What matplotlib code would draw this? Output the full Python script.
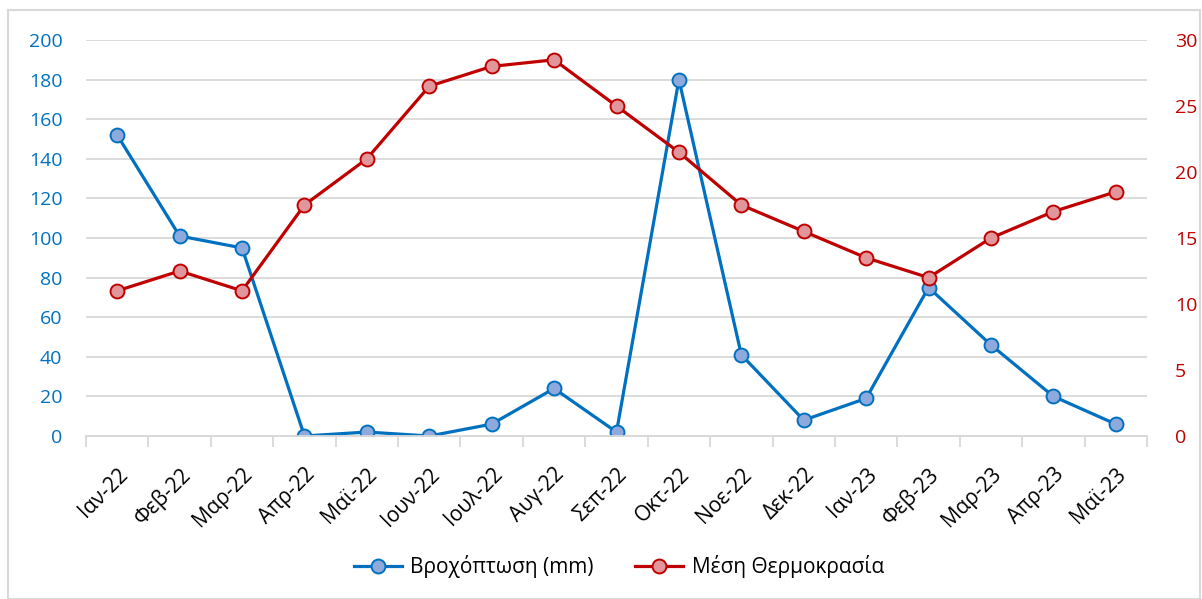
import matplotlib.pyplot as plt
from matplotlib.patches import Rectangle

months = ['Ιαν-22', 'Φεβ-22', 'Μαρ-22', 'Απρ-22', 'Μαϊ-22', 'Ιουν-22', 'Ιουλ-22', 'Αυγ-22', 'Σεπ-22',
          'Οκτ-22', 'Νοε-22', 'Δεκ-22', 'Ιαν-23', 'Φεβ-23', 'Μαρ-23', 'Απρ-23', 'Μαϊ-23']
rain = [152, 101, 95, 0, 2, 0, 6, 24, 2, 180, 41, 8, 19, 75, 46, 20, 6]
temp = [11, 12.5, 11, 17.5, 21, 26.5, 28, 28.5, 25, 21.5, 17.5, 15.5, 13.5, 12, 15, 17, 18.5]

plt.rcParams['font.family'] = ['Open Sans', 'DejaVu Sans']
blue = '#0070C0'
red = '#C00000'

fig = plt.figure(figsize=(12.02, 5.99), dpi=100)
fig.patches.append(Rectangle((8 / 1202, 0), 1192 / 1202, 1 - 10 / 599, transform=fig.transFigure,
                             fill=False, edgecolor='#D9D9D9', linewidth=1.5))
ax = fig.add_axes([86 / 1202, 1 - 436 / 599, 1061 / 1202, 396 / 599])
ax2 = ax.twinx()

x = range(len(months))
l1, = ax.plot(x, rain, color=blue, lw=2.3, marker='o', ms=10, mfc='#8EA9DB', mec=blue, mew=1.4,
              label='Βροχόπτωση (mm)', zorder=3)
l2, = ax2.plot(x, temp, color=red, lw=2.3, marker='o', ms=10, mfc='#E0969A', mec=red, mew=1.4,
               label='Μέση Θερμοκρασία', zorder=3)

ax.set_xlim(-0.5, len(months) - 0.5)
ax.set_ylim(0, 200)
ax.set_yticks(range(0, 201, 20))
ax2.set_ylim(0, 30)
ax2.set_yticks(range(0, 31, 5))
ax.grid(axis='y', color='#D9D9D9', lw=1.3)
ax.set_axisbelow(True)

for a in (ax, ax2):
    for s in ('top', 'left', 'right'):
        a.spines[s].set_visible(False)
    a.spines['bottom'].set_color('#D9D9D9')
    a.spines['bottom'].set_linewidth(1.3)

ax.tick_params(axis='y', length=0, labelsize=14, labelcolor=blue, pad=17)
ax2.tick_params(axis='y', length=0, labelsize=14, labelcolor=red, pad=20)

ax.set_xticks(x)
ax.set_xticklabels(months, rotation=45, ha='right', rotation_mode='anchor', fontsize=15)
ax.set_xticks([i - 0.5 for i in range(len(months) + 1)], minor=True)
ax.tick_params(axis='x', which='major', length=0, pad=20)
ax.tick_params(axis='x', which='minor', length=8, color='#D9D9D9', width=1.3)

fig.legend(handles=[l1, l2], loc='center', bbox_to_anchor=(0.515, 1 - 567 / 599), ncol=2, frameon=False,
           fontsize=15, handlelength=2.3, columnspacing=2.0, handletextpad=0.4)

fig.savefig('out.png', dpi=100)
